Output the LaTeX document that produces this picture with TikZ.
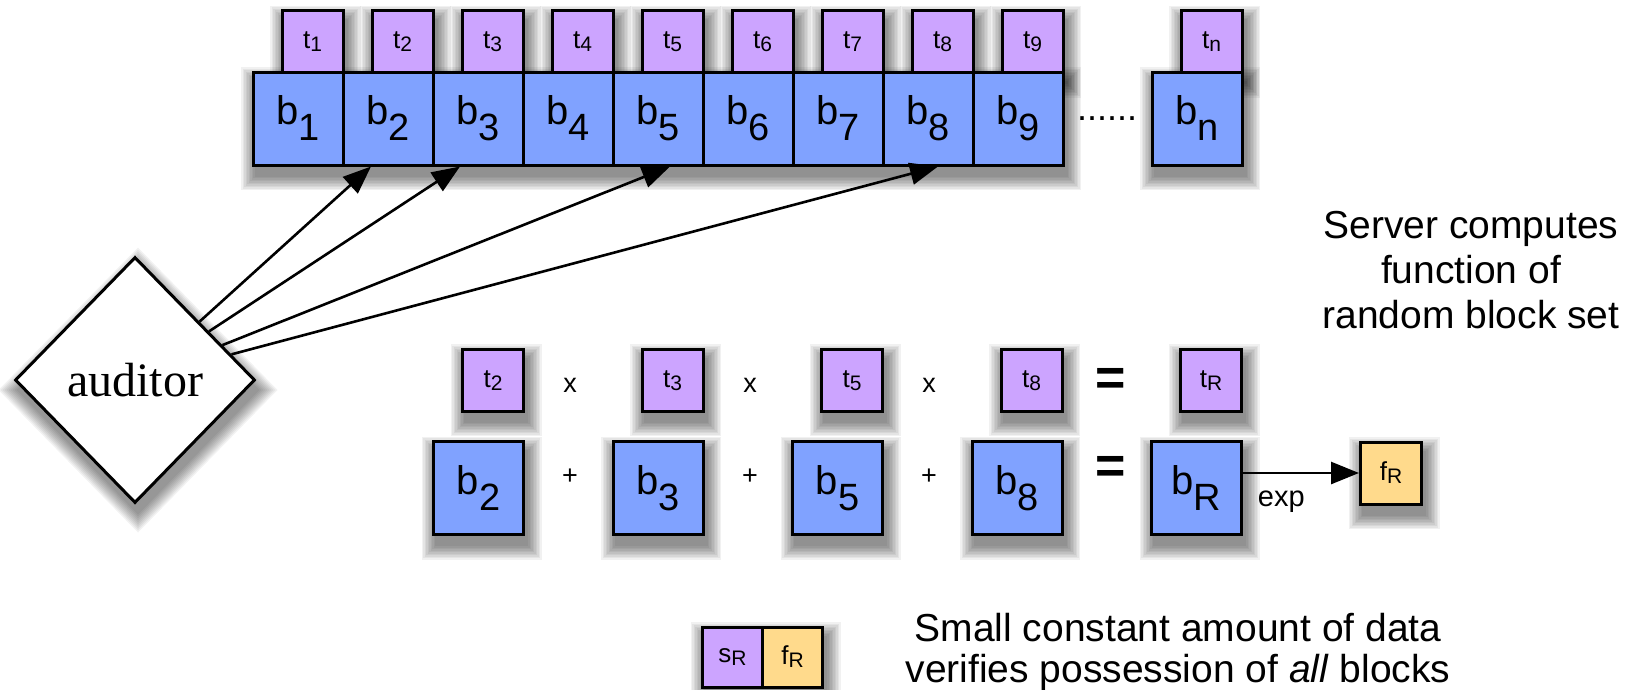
\documentclass[tikz,border=0pt]{standalone}
\usepackage{fontspec}
\setmainfont{Liberation Sans}
\newfontfamily\seriffont{Liberation Serif}
\usetikzlibrary{shapes.geometric,arrows.meta}
\definecolor{bblue}{RGB}{128,162,255}
\definecolor{tpurple}{RGB}{204,164,255}
\definecolor{fyellow}{RGB}{255,218,140}
\pgfdeclarelayer{bg}
\pgfsetlayers{bg,main}
\newcommand\bsub[2]{#1\raisebox{-16pt}{\fontsize{38}{38}\selectfont #2}}
\newcommand\tsub[2]{#1\raisebox{-3pt}{\fontsize{21}{21}\selectfont #2}}
\newcommand\shrect[2]{\foreach \r in {0,1.5,...,13.5}{\fill[black,opacity=0.055] ([shift={(3-\r,10-\r)}]#1) rectangle ([shift={(3+\r,10+\r)}]#2);}}
\tikzset{
 box/.style={draw=black, line width=3pt, inner sep=0pt},
 bbox/.style={box, fill=bblue, minimum width=90pt, minimum height=93pt, font=\fontsize{40}{40}\selectfont},
 tbox/.style={box, fill=tpurple, minimum width=61pt, minimum height=62pt, font=\fontsize{26}{26}\selectfont},
 fbox/.style={box, fill=fyellow, minimum width=61pt, minimum height=62pt, font=\fontsize{26}{26}\selectfont},
 op/.style={font=\fontsize{27}{27}\selectfont, inner sep=0pt},
 eq/.style={font=\fontsize{52}{52}\selectfont\bfseries, inner sep=0pt},
 arr/.style={line width=2.6pt, -{Triangle[length=28pt,width=22pt]}},
}
\begin{document}
\begin{tikzpicture}[x=1pt,y=-1pt]
\useasboundingbox (0,0) rectangle (1636,689);
% top row
\foreach \i in {1,...,9} {
  \node[tbox] (t\i) at ({312.5+90*(\i-1)},41.5) {\tsub{t}{\i}};
  \node[bbox] (b\i) at ({298+90*(\i-1)},118.5) {\bsub{b}{\i}};
}
\node[tbox] (tn) at (1211.5,41.5) {\tsub{t}{n}};
\node[bbox] (bn) at (1197,118.5) {\bsub{b}{n}};
\node[font=\fontsize{36}{36}\selectfont, anchor=base, inner sep=0pt] (dots) at (1107,120) {......};
% auditor
\node[draw, line width=3pt, diamond, aspect=0.976, fill=white, minimum width=240pt, minimum height=246pt, inner sep=0pt, font=\seriffont\fontsize{48}{48}\selectfont] (aud) at (135,380) {auditor};
\draw[arr] (aud) -- ([xshift=-17pt]b2.south);
\draw[arr] (aud) -- ([xshift=-18pt]b3.south);
\draw[arr] (aud) -- ([xshift=12pt]b5.south);
\draw[arr] (aud) -- ([xshift=10pt]b8.south);
% lower rows
\foreach \lab/\x in {2/478.5, 3/658, 5/837.5, 8/1017, R/1196.5} {
  \node[tbox] (lt\lab) at ({\x+14.5},380.4) {\tsub{t}{\lab}};
  \node[bbox] (lb\lab) at (\x,488.3) {\bsub{b}{\lab}};
}
\node[op] (x1) at (570,385) {x};
\node[op] (x2) at (750,385) {x};
\node[op] (x3) at (929,385) {x};
\node[op] (p1) at (570,477) {+};
\node[op] (p2) at (750,477) {+};
\node[op] (p3) at (929,477) {+};
\node[eq] (e1) at (1111,382) {=};
\node[eq] (e2) at (1111,470) {=};
\node[fbox] (fR) at (1391,473) {\tsub{f}{R}};
\draw[arr] (lbR.east |- fR.west) -- (fR.west) node[pos=0.33, yshift=-29pt, font=\fontsize{29}{29}\selectfont] (exp) {exp};
% bottom
\node[tbox, minimum width=60pt, minimum height=60pt] (sR) at (732.5,657) {\tsub{s}{R}};
\node[fbox, minimum width=60pt, minimum height=60pt] (fR2) at (792.5,657) {\tsub{f}{R}};
\node[align=center, font=\fontsize{39}{45}\selectfont] (server) at (1471,270) {Server computes\\function of\\random block set};
\node[align=center, font=\fontsize{39}{41}\selectfont] (small) at (1178,652) {Small constant amount of data\\verifies possession of \textit{all} blocks};
% shadows
\begin{pgfonlayer}{bg}
\shrect{b1.north west}{b9.south east}
\foreach \i in {1,...,9} {\shrect{t\i.north west}{t\i.south east}}
\shrect{tn.north west}{tn.south east}
\shrect{bn.north west}{bn.south east}
\foreach \l in {2,3,5,8,R} {\shrect{lt\l.north west}{lt\l.south east}\shrect{lb\l.north west}{lb\l.south east}}
\shrect{fR.north west}{fR.south east}
\shrect{sR.north west}{fR2.south east}
\foreach \r in {0,2,...,18} {\fill[black,opacity=0.05] ([shift={(3,10-\r)}]aud.north) -- ([shift={(3+\r,10)}]aud.east) -- ([shift={(3,10+\r)}]aud.south) -- ([shift={(3-\r,10)}]aud.west) -- cycle;}
\end{pgfonlayer}
\end{tikzpicture}
\end{document}
